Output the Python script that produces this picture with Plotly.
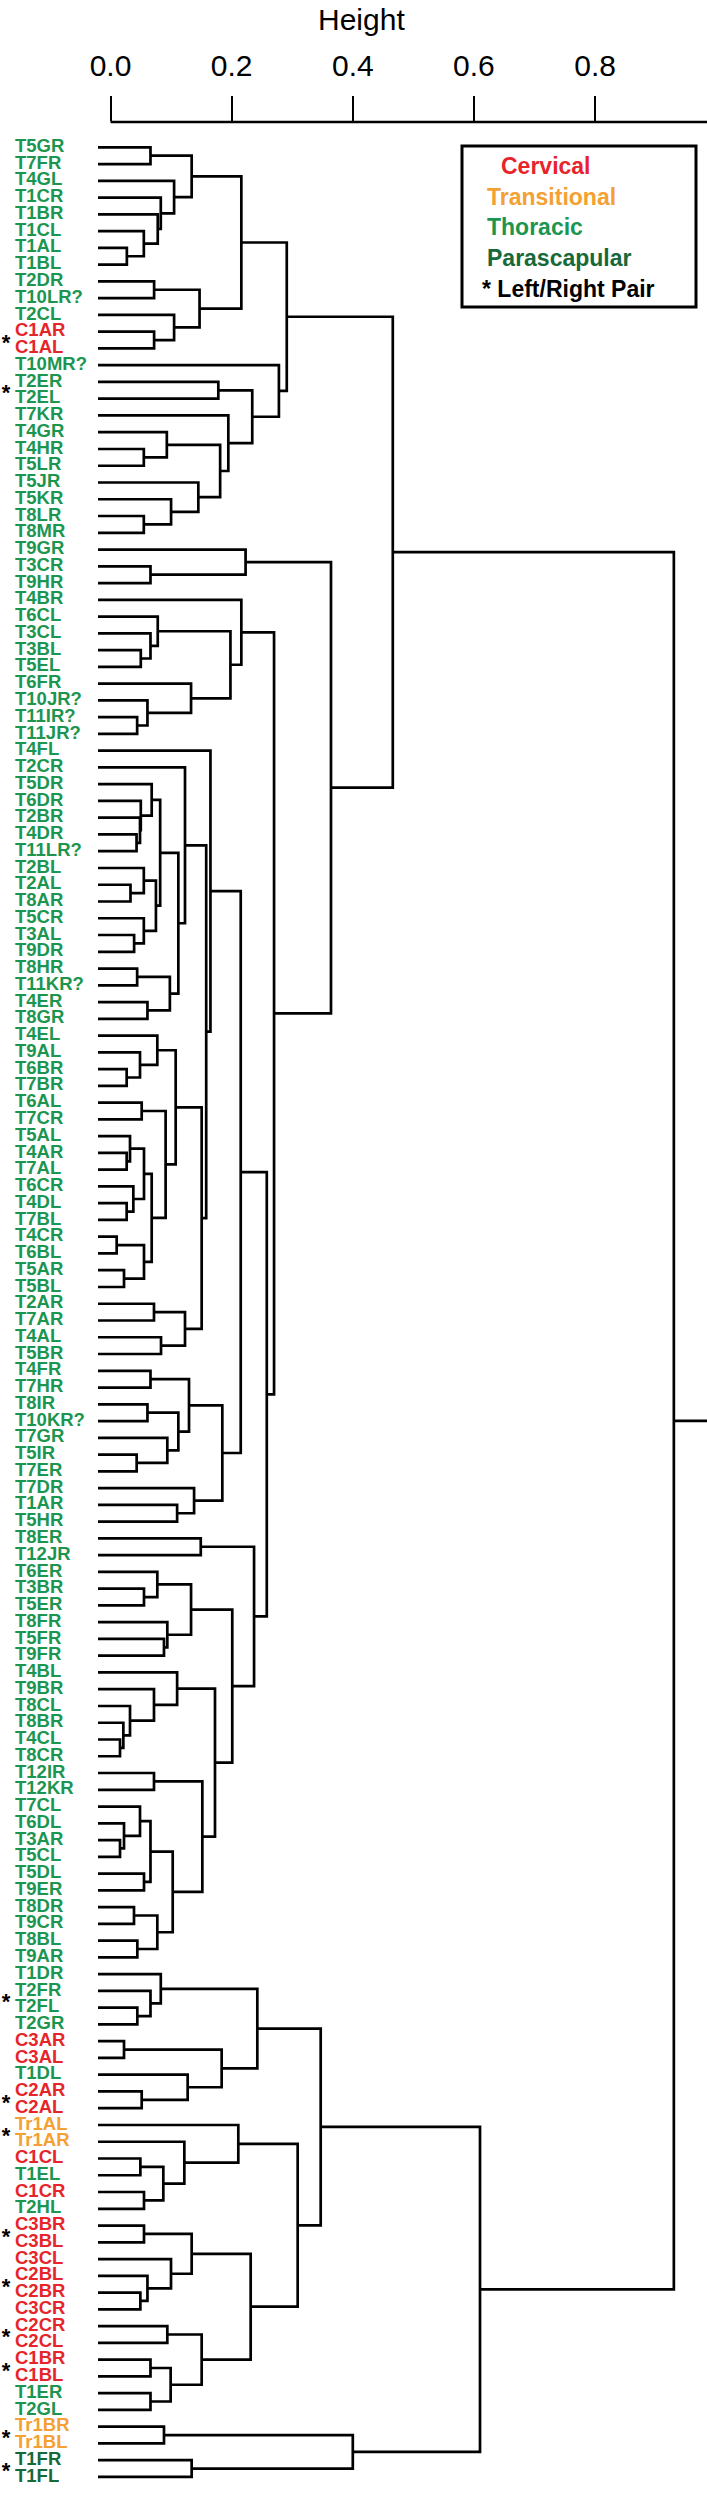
import plotly.graph_objects as go

W, H = 707, 2498
TOP = 122  # top margin, axis line sits here

# merge tree: [height, left, right]
A1 = [0.216,
      [0.134, [0.066, "T5GR", "T7FR"],
       [0.105, "T4GL", [0.083, "T1CR", [0.078, "T1BR", [0.055, "T1CL", [0.027, "T1AL", "T1BL"]]]]]],
      [0.147, [0.072, "T2DR", "T10LR?"], [0.105, "T2CL", [0.072, "C1AR", "C1AL"]]]]
A2 = [0.278, "T10MR?",
      [0.234, [0.178, "T2ER", "T2EL"],
       [0.1945, "T7KR",
        [0.181, [0.093, "T4GR", [0.055, "T4HR", "T5LR"]],
         [0.145, "T5JR", [0.100, "T5KR", [0.055, "T8LR", "T8MR"]]]]]]]
B1 = [0.223, "T9GR", [0.066, "T3CR", "T9HR"]]
B2 = [0.216, "T4BR",
      [0.198, [0.078, "T6CL", [0.066, "T3CL", [0.050, "T3BL", "T5EL"]]],
       [0.133, "T6FR", [0.061, "T10JR?", [0.044, "T11IR?", "T11JR?"]]]]]
C_a = [0.123, "T2CR",
       [0.112,
        [0.082, [0.068, "T5DR", [0.050, "T6DR", [0.0487, "T2BR", [0.043, "T4DR", "T11LR?"]]]],
         [0.075, [0.055, "T2BL", [0.033, "T2AL", "T8AR"]], [0.055, "T5CR", [0.039, "T3AL", "T9DR"]]]],
        [0.098, [0.044, "T8HR", "T11KR?"], [0.061, "T4ER", "T8GR"]]]]
E = [0.1076, [0.0773, "T4EL", [0.0487, "T9AL", [0.0267, "T6BR", "T7BR"]]],
     [0.091, [0.0515, "T6AL", "T7CR"],
      [0.068, [0.0553, [0.0322, "T5AL", [0.0267, "T4AR", "T7AL"]], [0.0377, "T6CR", [0.0267, "T4DL", "T7BL"]]],
       [0.0553, [0.0102, "T4CR", "T6BL"], [0.0223, "T5AR", "T5BL"]]]]]
F = [0.123, [0.0718, "T2AR", "T7AR"], [0.0834, "T4AL", "T5BR"]]
C = [0.165, "T4FL", [0.158, C_a, [0.1505, E, F]]]
D = [0.1846,
     [0.1296, [0.066, "T4FR", "T7HR"],
      [0.112, [0.061, "T8IR", "T10KR?"], [0.0938, "T7GR", [0.0432, "T5IR", "T7ER"]]]],
     [0.138, "T7DR", [0.110, "T1AR", "T5HR"]]]
G = [0.237, [0.149, "T8ER", "T12JR"],
     [0.201,
      [0.133, [0.0773, "T6ER", [0.0553, "T3BR", "T5ER"]], [0.0938, "T8FR", [0.0883, "T5FR", "T9FR"]]],
      [0.1725,
       [0.110, "T4BL", [0.0718, "T9BR", [0.0322, "T8CL", [0.0212, "T8BR", [0.0157, "T4CL", "T8CR"]]]]],
       [0.1516, [0.0718, "T12IR", "T12KR"],
        [0.1027,
         [0.066, [0.0487, "T7CL", [0.0223, "T6DL", [0.0157, "T3AR", "T5CL"]]], [0.0553, "T5DL", "T9ER"]],
         [0.0773, [0.0388, "T8DR", "T9CR"], [0.0443, "T8BL", "T9AR"]]]]]]]
AB = [0.466, [0.291, A1, A2], [0.364, B1, [0.270, B2, [0.258, [0.215, C, D], G]]]]
G1 = [0.347,
      [0.2424, [0.083, "T1DR", [0.066, "T2FR", [0.0443, "T2FL", "T2GR"]]],
       [0.1835, [0.0223, "C3AR", "C3AL"], [0.1274, "T1DL", [0.0515, "C2AR", "C2AL"]]]],
      [0.309,
       [0.211, "Tr1AL", [0.1219, "Tr1AR", [0.0872, [0.0493, "C1CL", "T1EL"], [0.0553, "C1CR", "T2HL"]]]],
       [0.2314,
        [0.134, [0.0553, "C3BR", "C3BL"], [0.0999, "C3CL", [0.061, "C2BL", [0.0493, "C2BR", "C3CR"]]]],
        [0.1505, [0.0938, "C2CR", "C2CL"], [0.0993, [0.066, "C1BR", "C1BL"], [0.066, "T1ER", "T2GL"]]]]]]
G2 = [0.40, [0.0883, "Tr1BR", "Tr1BL"], [0.134, "T1FR", "T1FL"]]
tree = [0.93, AB, [0.61, G1, G2]]

cervical = ["C1AR", "C1AL", "C3AR", "C3AL", "C2AR", "C2AL", "C1CL", "C1CR", "C3BR", "C3BL",
            "C3CL", "C2BL", "C2BR", "C3CR", "C2CR", "C2CL", "C1BR", "C1BL"]
transitional = ["Tr1AL", "Tr1AR", "Tr1BR", "Tr1BL"]
parascapular = ["T1FR", "T1FL"]
pairs = [("C1AR", "C1AL"), ("T2ER", "T2EL"), ("T2FR", "T2FL"), ("C2AR", "C2AL"), ("Tr1AL", "Tr1AR"),
         ("C3BR", "C3BL"), ("C2BL", "C2BR"), ("C2CR", "C2CL"), ("C1BR", "C1BL"), ("Tr1BR", "Tr1BL"),
         ("T1FR", "T1FL")]
legend_labels = ["Cervical", "Transitional", "Thoracic", "Parascapular", "* Left/Right Pair"]

colors = {"Cervical": "#e6252b", "Transitional": "#f4a033", "Thoracic": "#1c9550",
          "Parascapular": "#17693a", "* Left/Right Pair": "black"}

# pixel mapping used for axis ranges
X0, XS = 110.5, 605.75      # pixel of h=0, pixels per unit height
Y0, YS = 147.3, 16.76       # pixel of first leaf, pixels per leaf
LEAF_H = (98 - X0) / XS

xs, ys, order = [], [], []


def walk(node):
    if isinstance(node, str):
        order.append(node)
        return len(order) - 1, LEAF_H
    h, a, b = node
    ya, ha = walk(a)
    yb, hb = walk(b)
    xs.extend([ha, h, h, hb, None])
    ys.extend([ya, ya, yb, yb, None])
    return (ya + yb) / 2, h


root_y, root_h = walk(tree)
xmax = (W - X0) / XS
xs.extend([root_h, xmax + 0.01, None])
ys.extend([root_y, root_y, None])


def cat(name):
    if name in cervical:
        return "Cervical"
    if name in transitional:
        return "Transitional"
    if name in parascapular:
        return "Parascapular"
    return "Thoracic"


fig = go.Figure()
fig.add_trace(go.Scatter(x=xs, y=ys, mode="lines", line=dict(color="black", width=2.7),
                         hoverinfo="skip", showlegend=False))
fig.add_trace(go.Scatter(
    x=[(15 - X0) / XS] * len(order), y=list(range(len(order))), mode="text", text=order,
    textposition="middle right", cliponaxis=False, showlegend=False, hoverinfo="skip",
    textfont=dict(family="Liberation Sans", size=18.5, weight="bold",
                  color=[colors[cat(n)] for n in order])))
star_y = [(order.index(a) + order.index(b)) / 2 + 0.25 for a, b in pairs]
fig.add_trace(go.Scatter(
    x=[(6 - X0) / XS] * len(star_y), y=star_y, mode="text", text=["*"] * len(star_y),
    textposition="middle center", cliponaxis=False, showlegend=False, hoverinfo="skip",
    textfont=dict(family="Liberation Sans", size=22, weight="bold", color="black")))


def px(x):
    return x / W


def py(y):
    return (H - y) / (H - TOP)


fig.add_shape(type="line", xref="paper", yref="paper", x0=px(X0), x1=1, y0=1, y1=1,
              line=dict(color="black", width=2.5))

# legend box just under the axis in the empty top-right corner
box_top = 146
fig.add_shape(type="rect", xref="paper", yref="paper", x0=px(462), x1=px(696),
              y0=py(box_top), y1=py(box_top + 161),
              line=dict(color="black", width=3), fillcolor="white")
for k, txt in enumerate(legend_labels):
    lx = 499 if k == 0 else (480 if k == 4 else 485)
    fig.add_annotation(text=txt, xref="paper", yref="paper", x=px(lx), y=py(box_top + 20 + 30.7 * k),
                       xanchor="left", yanchor="middle", showarrow=False,
                       font=dict(family="Liberation Sans", size=23, weight="bold", color=colors[txt]))
fig.add_annotation(text="Height", xref="paper", yref="paper", x=px(361), y=py(20), xanchor="center",
                   yanchor="middle", showarrow=False,
                   font=dict(family="Liberation Sans", size=30, color="black"))

fig.update_layout(
    width=W, height=H, margin=dict(l=0, r=0, t=TOP, b=0),
    plot_bgcolor="white", paper_bgcolor="white",
    xaxis=dict(range=[(0 - X0) / XS, xmax], side="top", showgrid=False, zeroline=False, showline=False,
               tickvals=[0, 0.2, 0.4, 0.6, 0.8], ticktext=["0.0", "0.2", "0.4", "0.6", "0.8"],
               ticks="outside", ticklen=25, tickwidth=2, tickcolor="black", ticklabelstandoff=8,
               tickfont=dict(family="Liberation Sans", size=30, color="black")),
    yaxis=dict(range=[(H - Y0) / YS, (TOP - Y0) / YS], visible=False),
)
fig.write_html("out.html", config={"displayModeBar": False},
               post_script="document.body.style.margin='0';document.body.style.overflow='hidden';")
